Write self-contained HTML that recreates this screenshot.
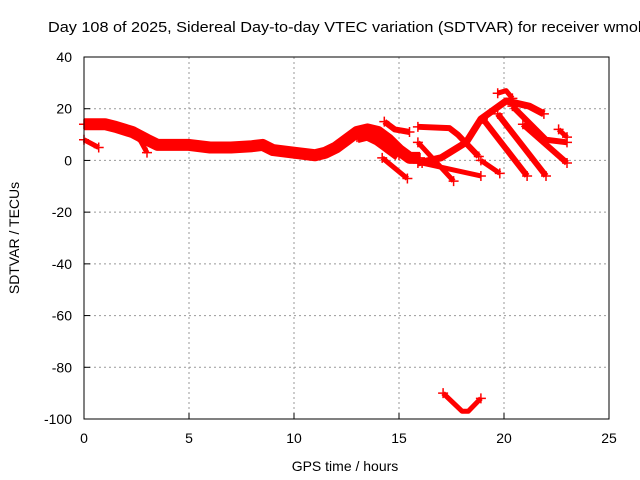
<!DOCTYPE html>
<html><head><meta charset="utf-8"><style>
body{margin:0;background:#fff;overflow:hidden;}
svg{display:block;font-family:"Liberation Sans",sans-serif;}
</style></head><body>
<svg id="chart" width="640" height="480" viewBox="0 0 640 480">
<text x="48" y="32" font-size="15" textLength="598" lengthAdjust="spacingAndGlyphs">Day 108 of 2025, Sidereal Day-to-day VTEC variation (SDTVAR) for receiver wmok</text>
<text transform="translate(19,238) rotate(-90)" text-anchor="middle" font-size="14">SDTVAR / TECUs</text>
<text x="345" y="471" text-anchor="middle" font-size="14">GPS time / hours</text>
<g id="grid"></g><g id="ticks"></g><g id="series"></g>
<rect x="84" y="57" width="525" height="362" fill="none" stroke="#000" stroke-width="1"/>
</svg>
<script>
const xTicks=[0,5,10,15,20,25];
const yTicks=[40,20,0,-20,-40,-60,-80,-100];
const trackHours=[
[0,1,1.5,2.3,3,3.5,4,5,6,7,8,8.5,9,10,11,11.5,12,12.5,13,13.5,14,14.5,15,15.5,16],
[0,0.7],[2.6,3.0],[14.2,15.4],[14.3,14.8,15.5],[15.9,17.4,17.8,18.8],[15.9,17.6],
[15.9,17,18.2,18.9,20.1,21.2,21.9],[16.1,18.9],[18.9,19.8],[19,21.1],[19.7,22],
[20.4,22,23],[20.9,23],[19.7,20.1,20.4],[22.6,23],[17.1,18,18.3,18.9],
[13,13.5,14,14.5,15]];
const trackValues=[
[14,14,13,11,8,6,6,6,5,5,5.5,6,4,3,2,3,5,8,11,12,11,8,4,1,1],
[8,5],[9,3],[1,-7],[15,12,11],[13,12.5,10,1.5],[7,-8],
[-1,1,7,16,23,21,18],[-1,-6],[0,-5],[16,-6],[18,-6],
[21,8,7],[14,-1],[26,27,24],[12,9],[-90,-97,-97,-92],
[9,10,8,5,2]];
const trackWidths=[12,5,5,5,6,6,5,7,5,5,6,6,6,6,5,5,5,12];
const X=h=>84+h*21, Y=v=>57+(40-v)*362/140;
const ns="http://www.w3.org/2000/svg";
const grid=document.getElementById('grid'),ticks=document.getElementById('ticks'),ser=document.getElementById('series');
function mk(tag,attrs,parent){const e=document.createElementNS(ns,tag);for(const k in attrs)e.setAttribute(k,attrs[k]);parent.appendChild(e);return e;}
xTicks.forEach(t=>{
 if(t>0&&t<25){const g=mk('line',{x1:X(t),x2:X(t),y1:57,y2:419,stroke:'#999','stroke-dasharray':'2,3'},grid);
 
 }
 const l=mk('text',{x:X(t),y:443,'text-anchor':'middle','font-size':14},ticks);l.textContent=t;
 
 
 mk('line',{x1:X(t),x2:X(t),y1:419,y2:413,stroke:'#000'},ticks);
});
yTicks.forEach(t=>{
 if(t<40&&t>-100){const g=mk('line',{x1:84,x2:609,y1:Y(t),y2:Y(t),stroke:'#999','stroke-dasharray':'2,3'},grid);
 
 }
 const l=mk('text',{x:72,y:Y(t)+5,'text-anchor':'end','font-size':14},ticks);l.textContent=t;
 
 
 mk('line',{x1:84,x2:90,y1:Y(t),y2:Y(t),stroke:'#000'},ticks);
});
trackHours.forEach((hs,i)=>{
 const pts=hs.map((h,j)=>X(h)+','+Y(trackValues[i][j])).join(' ');
 const p=mk('polyline',{points:pts,fill:'none',stroke:'#f00','stroke-width':trackWidths[i],'stroke-linejoin':'round','stroke-linecap':'butt'},ser);
 
 
 [0,hs.length-1].forEach(j=>{
  const cx=X(hs[j]),cy=Y(trackValues[i][j]);
  const m=mk('path',{d:`M${cx-5},${cy}h10M${cx},${cy-5}v10`,stroke:'#f00','stroke-width':1.5},ser);
  
  
 });
});
</script>
</body></html>
